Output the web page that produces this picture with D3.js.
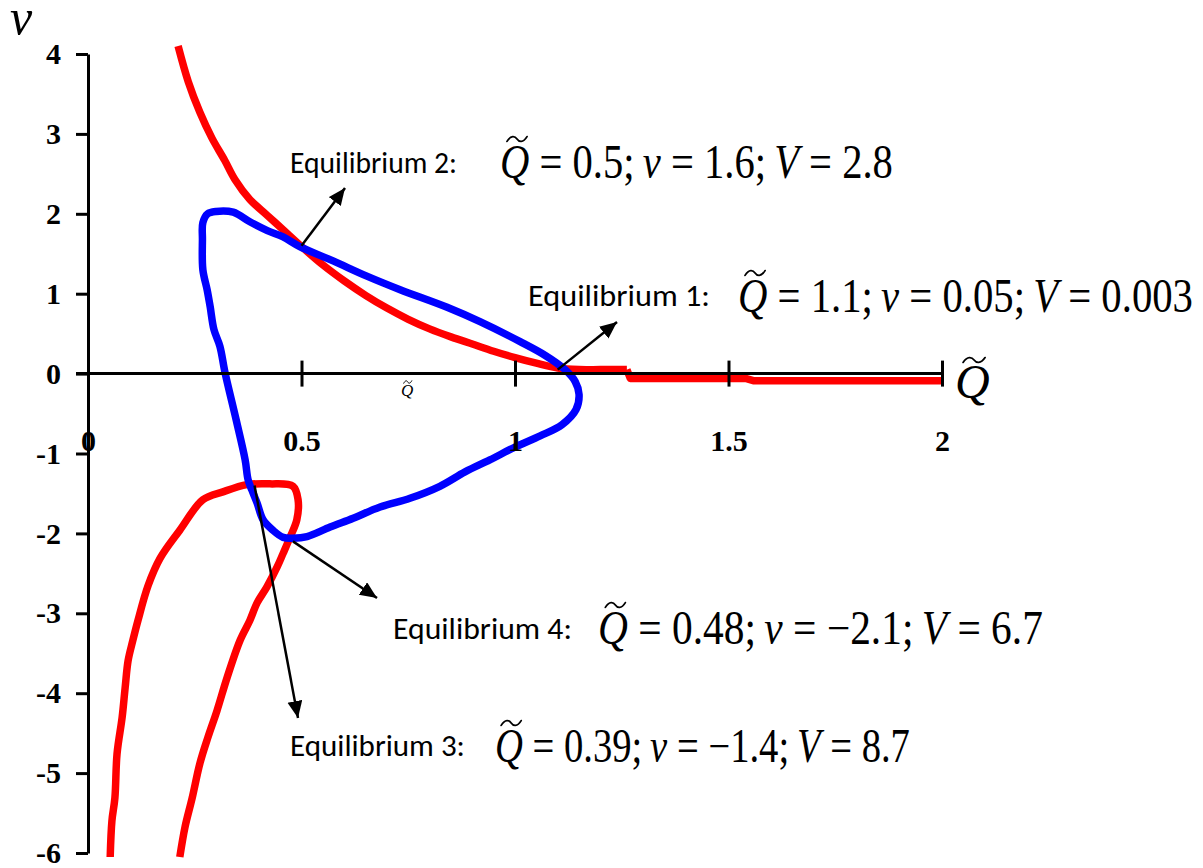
<!DOCTYPE html>
<html>
<head>
<meta charset="utf-8">
<script src="https://cdn.jsdelivr.net/npm/d3@7"></script>
<style>
  html, body { margin: 0; padding: 0; background: #fff; }
  svg { display: block; }
</style>
</head>
<body>
<svg id="chart" width="1203" height="868"></svg>
<script>
// ---- Phase-plane data: points are [Q~, v] ----
const redUpper = [
  [0.211, 4.10], [0.235, 3.65], [0.262, 3.27], [0.290, 2.95], [0.320, 2.67],
  [0.344, 2.43], [0.379, 2.18], [0.420, 1.98], [0.457, 1.80], [0.500, 1.59],
  [0.550, 1.36], [0.600, 1.16], [0.650, 0.98], [0.700, 0.82], [0.750, 0.68],
  [0.800, 0.56], [0.850, 0.46], [0.900, 0.37], [0.950, 0.28], [1.000, 0.20],
  [1.050, 0.13], [1.100, 0.07], [1.150, 0.05], [1.200, 0.05], [1.262, 0.05]
];
const redTail = [
  [1.262, 0.05], [1.270, -0.06], [1.540, -0.06], [1.560, -0.09], [2.000, -0.09]
];
const redLower = [
  [0.052, -6.05], [0.056, -5.60], [0.063, -5.31], [0.068, -4.76], [0.080, -4.30],
  [0.087, -3.93], [0.094, -3.59], [0.105, -3.34], [0.117, -3.09], [0.141, -2.65],
  [0.169, -2.31], [0.215, -1.96], [0.269, -1.58], [0.316, -1.48], [0.372, -1.39],
  [0.426, -1.38], [0.480, -1.41], [0.492, -1.58], [0.489, -1.83], [0.473, -2.05],
  [0.457, -2.25], [0.443, -2.42], [0.419, -2.67], [0.396, -2.87], [0.379, -3.09],
  [0.356, -3.34], [0.326, -3.80], [0.302, -4.22], [0.281, -4.55], [0.262, -4.88],
  [0.244, -5.31], [0.227, -5.68], [0.215, -6.05]
];
const blueLoop = [
  [0.269, 1.89], [0.280, 2.00], [0.300, 2.03], [0.340, 2.02], [0.379, 1.90],
  [0.420, 1.79], [0.457, 1.71], [0.496, 1.59], [0.574, 1.41], [0.653, 1.22],
  [0.731, 1.05], [0.841, 0.83], [0.918, 0.65], [1.012, 0.40], [1.070, 0.23],
  [1.117, 0.05], [1.141, -0.10], [1.150, -0.26], [1.143, -0.45], [1.110, -0.64],
  [1.059, -0.78], [1.000, -0.92], [0.941, -1.08], [0.883, -1.23], [0.824, -1.41],
  [0.754, -1.56], [0.684, -1.67], [0.621, -1.81], [0.567, -1.92], [0.513, -2.04],
  [0.480, -2.06], [0.457, -2.05], [0.433, -1.96], [0.410, -1.83], [0.396, -1.62],
  [0.384, -1.46], [0.375, -1.33], [0.368, -1.08], [0.347, -0.58], [0.321, 0.01],
  [0.309, 0.34], [0.295, 0.55], [0.286, 0.84], [0.279, 1.05], [0.269, 1.30],
  [0.268, 1.68]
];

// ---- Axis ticks ----
const xTickValues = [0, 0.5, 1, 1.5, 2];
const xTickLabels = ["0", "0.5", "1", "1.5", "2"];
const yTickValues = [4, 3, 2, 1, 0, -1, -2, -3, -4, -5, -6];
const yTickLabels = ["4", "3", "2", "1", "0", "-1", "-2", "-3", "-4", "-5", "-6"];

// ---- Equilibria ----
const eqNames = ["Equilibrium 1:", "Equilibrium 2:", "Equilibrium 3:", "Equilibrium 4:"];
const eqQ = [1.1, 0.5, 0.39, 0.48];
const eqV = [0.05, 1.6, -1.4, -2.1];
const eqPotential = [0.003, 2.8, 8.7, 6.7];

// ---- Annotation layout (pixels) ----
const eqLayout = [
  { lx: 528, ly: 306, lw: 182, ex: 738, ey: 312, ew: 455, tip: [617, 322] },
  { lx: 290, ly: 173, lw: 167, ex: 500, ey: 178, ew: 393, tip: [345, 188] },
  { lx: 290, ly: 756, lw: 175, ex: 495, ey: 762, ew: 415, tip: [298, 718] },
  { lx: 393, ly: 639, lw: 179, ex: 598, ey: 644, ew: 445, tip: [377, 598] }
];

const svg = d3.select("#chart");
const serif = "'Liberation Serif', 'Times New Roman', 'DejaVu Serif', serif";
const sans = "Carlito, Lato, 'Open Sans', sans-serif";

const x = d3.scaleLinear().domain([0, 2]).range([88, 942]);
const y = d3.scaleLinear().domain([-6, 4]).range([853, 54]);

// ---- Curves ----
const lineSmooth = d3.line().x(d => x(d[0])).y(d => y(d[1])).curve(d3.curveCatmullRom.alpha(0.5));
const lineStraight = d3.line().x(d => x(d[0])).y(d => y(d[1]));
const lineClosed = d3.line().x(d => x(d[0])).y(d => y(d[1])).curve(d3.curveCatmullRomClosed.alpha(0.5));

const curves = svg.append("g").attr("fill", "none").attr("stroke-linejoin", "round");
curves.append("path").attr("d", lineSmooth(redUpper)).attr("stroke", "#ff0000").attr("stroke-width", 7.5);
curves.append("path").attr("d", lineStraight(redTail)).attr("stroke", "#ff0000").attr("stroke-width", 7.5);
curves.append("path").attr("d", lineSmooth(redLower)).attr("stroke", "#ff0000").attr("stroke-width", 7.5);
curves.append("path").attr("d", lineClosed(blueLoop)).attr("stroke", "#0000ff").attr("stroke-width", 7.5);

// ---- Axes ----
const yAxis = d3.axisLeft(y)
  .tickValues(yTickValues)
  .tickFormat((d, i) => yTickLabels[i])
  .tickSize(12)
  .tickSizeOuter(0)
  .tickPadding(15);
const gy = svg.append("g").attr("transform", `translate(${x(0)},0)`).call(yAxis);
gy.select(".domain").attr("stroke", "#000").attr("stroke-width", 3);
gy.selectAll(".tick line").attr("stroke", "#000").attr("stroke-width", 3);
gy.selectAll(".tick text")
  .attr("font-family", serif).attr("font-weight", "bold").attr("font-size", 30)
  .attr("fill", "#000").attr("dy", "0.32em");

const xAxis = d3.axisBottom(x)
  .tickValues(xTickValues)
  .tickFormat((d, i) => xTickLabels[i])
  .tickSize(0)
  .tickSizeOuter(0);
const gx = svg.append("g").attr("transform", `translate(0,${y(0)})`).call(xAxis);
gx.select(".domain").remove();
gx.insert("line", ":first-child")
  .attr("x1", x(0) - 12).attr("x2", x(2)).attr("y1", 0).attr("y2", 0)
  .attr("stroke", "#000").attr("stroke-width", 3);
gx.selectAll(".tick line")
  .attr("y1", -13).attr("y2", 13)
  .attr("stroke", "#000").attr("stroke-width", 3)
  .attr("display", d => d === 0 ? "none" : null);
gx.selectAll(".tick text")
  .attr("font-family", serif).attr("font-weight", "bold").attr("font-size", 30)
  .attr("fill", "#000").attr("y", 77).attr("dy", null);

// ---- Tilde accent drawn as a small wave ----
function tilde(cx, cy, w, h, sw) {
  const d = `M${cx - 0.5 * w},${cy + 0.4 * h} C${cx - 0.3 * w},${cy - 0.7 * h} ${cx - 0.1 * w},${cy - 0.5 * h} ${cx},${cy} S${cx + 0.3 * w},${cy + 0.7 * h} ${cx + 0.5 * w},${cy - 0.4 * h}`;
  svg.append("path").attr("d", d).attr("fill", "none").attr("stroke", "#000")
    .attr("stroke-width", sw).attr("stroke-linecap", "round");
}

// Squeeze a text group horizontally so it spans the given width
function fitWidth(g, left, baseline, width) {
  const w = g.node().getBBox().width;
  const s = width / w;
  g.attr("transform", `translate(${left},${baseline}) scale(${s},1)`);
  return s;
}

// ---- Axis titles ----
svg.append("text").attr("x", 10).attr("y", 34)
  .attr("font-family", serif).attr("font-style", "italic").attr("font-size", 50)
  .text("v");

const qTitle = svg.append("text").attr("x", 955).attr("y", 398)
  .attr("font-family", serif).attr("font-style", "italic").attr("font-size", 48)
  .text("Q");
{
  const b = qTitle.node().getBBox();
  tilde(b.x + b.width * 0.55, 360, 22, 6, 1.8);
}

const qSmall = svg.append("text").attr("x", 401).attr("y", 396)
  .attr("font-family", serif).attr("font-style", "italic").attr("font-size", 17)
  .text("Q");
{
  const b = qSmall.node().getBBox();
  tilde(b.x + b.width * 0.55, 382, 8, 3, 1);
}

// ---- Arrow marker ----
svg.append("defs").append("marker")
  .attr("id", "head").attr("markerUnits", "userSpaceOnUse")
  .attr("markerWidth", 18).attr("markerHeight", 16)
  .attr("refX", 17).attr("refY", 7.5).attr("orient", "auto")
  .append("path").attr("d", "M0,0 L17,7.5 L0,15 Z").attr("fill", "#000");

// ---- Equilibrium annotations ----
const fmt = v => (v < 0 ? "\u2212" + Math.abs(v) : String(v));
eqNames.forEach((name, i) => {
  const L = eqLayout[i];
  // arrow from the equilibrium point outward
  svg.append("line")
    .attr("x1", x(eqQ[i])).attr("y1", y(eqV[i]))
    .attr("x2", L.tip[0]).attr("y2", L.tip[1])
    .attr("stroke", "#000").attr("stroke-width", 2.5)
    .attr("marker-end", "url(#head)");

  const lg = svg.append("g");
  lg.append("text").attr("x", 0).attr("y", 0)
    .attr("font-family", sans).attr("font-size", 30)
    .text(name);
  fitWidth(lg, L.lx, L.ly, L.lw);

  const eg = svg.append("g");
  const t = eg.append("text").attr("x", 0).attr("y", 0)
    .attr("font-family", serif).attr("font-size", 48);
  t.append("tspan").attr("font-style", "italic").text("Q");
  t.append("tspan").text(" = " + fmt(eqQ[i]) + ";\u2009");
  t.append("tspan").attr("font-style", "italic").text("v");
  t.append("tspan").text(" = " + fmt(eqV[i]) + ";\u2009");
  t.append("tspan").attr("font-style", "italic").text("V");
  t.append("tspan").text(" = " + fmt(eqPotential[i]));
  const s = fitWidth(eg, L.ex, L.ey, L.ew);

  const r = t.node().getExtentOfChar(0);
  tilde(L.ex + (r.x + r.width * 0.58) * s, L.ey - 39, 20, 6, 1.8);
});
</script>
</body>
</html>
